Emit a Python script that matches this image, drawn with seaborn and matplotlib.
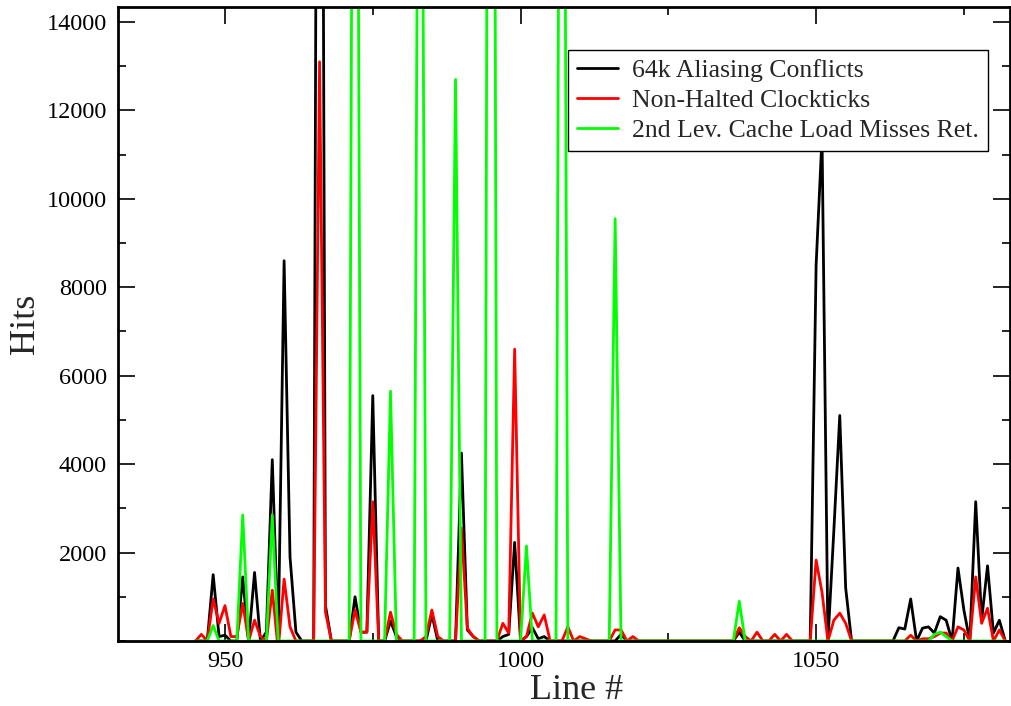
import numpy as np
import pandas as pd
import matplotlib
matplotlib.use("Agg")
import matplotlib.pyplot as plt
import seaborn as sns
from matplotlib.ticker import FixedLocator, MultipleLocator

# Hits per source line for three hardware events

first_line = 945
last_line = 1082

aliasing_hits = [
    0, 0, 0, 1500, 100, 130, 0, 0, 1450, 0,
    1550, 0, 200, 4100, 0, 8600, 1900, 200, 0, 0,
    0, 40000, 800, 0, 0, 0, 0, 1000, 200, 200,
    5550, 0, 0, 450, 100, 0, 0, 0, 0, 0,
    600, 0, 0, 0, 0, 4250, 250, 100, 0, 0,
    0, 0, 100, 150, 2230, 0, 100, 300, 50, 100,
    0, 0, 0, 0, 0, 0, 0, 0, 0, 0,
    0, 0, 150, 0, 0, 0, 0, 0, 0, 0,
    0, 0, 0, 0, 0, 0, 0, 0, 0, 0,
    0, 0, 200, 0, 0, 0, 0, 0, 0, 0,
    0, 0, 0, 0, 0, 8500, 11400, 0, 2500, 5100,
    1200, 0, 0, 0, 0, 0, 0, 0, 0, 300,
    270, 950, 0, 290, 320, 180, 550, 470, 0, 1650,
    700, 0, 3150, 470, 1700, 180, 470, 0,
]

clockticks_hits = [
    0, 150, 0, 950, 400, 800, 100, 100, 850, 0,
    470, 100, 0, 1150, -200, 1400, 320, 0, 0, 0,
    0, 13100, 650, 0, 0, 0, 0, 700, 200, 200,
    3150, 0, 0, 650, 150, 0, 0, 0, 0, 100,
    700, 100, 0, 0, 0, 2550, 290, 100, 0, 0,
    0, 0, 400, 180, 6600, 0, 100, 630, 320, 590,
    0, 0, 0, 320, 0, 100, 50, 0, 0, 0,
    0, 250, 250, 0, 100, 0, 0, 0, 0, 0,
    0, 0, 0, 0, 0, 0, 0, 0, 0, 0,
    0, 0, 300, 100, 0, 200, 0, 0, 150, 0,
    150, 0, 0, 0, 0, 1830, 1100, 0, 470, 630,
    400, 0, 0, 0, 0, 0, 0, 0, 0, 0,
    0, 130, 0, 50, 50, 100, 180, 180, 0, 320,
    250, 0, 1450, 400, 740, 0, 250, 0,
]

l2_miss_hits = [
    0, 0, 0, 350, 0, 0, 0, 0, 2850, 0,
    0, 0, 0, 2850, 0, 0, 0, 0, 0, 0,
    0, 0, 0, 0, 0, 0, 0, 35000, 0, 0,
    0, 0, 0, 5650, 0, 0, 0, 0, 30000, 0,
    0, 0, 0, 0, 12700, 0, 0, 0, 0, 0,
    50000, 0, 0, 0, 0, 0, 2150, 0, 0, 0,
    0, 0, 35000, 0, 0, 0, 0, 0, 0, 0,
    0, 9550, 0, 0, 0, 0, 0, 0, 0, 0,
    0, 0, 0, 0, 0, 0, 0, 0, 0, 0,
    0, 0, 900, 0, 0, 0, 0, 0, 0, 0,
    0, 0, 0, 0, 0, 0, 0, 0, 0, 0,
    0, 0, 0, 0, 0, 0, 0, 0, 0, 0,
    0, 0, 0, 0, 0, 150, 200, 100, 0, 0,
    0, 0, 0, 0, 0, 0, 0, 0,
]

series_names = [
    "64k Aliasing Conflicts",
    "Non-Halted Clockticks",
    "2nd Lev. Cache Load Misses Ret.",
]
series_colors = ["#000000", "#ff0000", "#00ff00"]

y_tick_values = [2000, 4000, 6000, 8000, 10000, 12000, 14000]
x_tick_values = [950, 1000, 1050]


def build_frame():
    """Long-form table: one row per (line, series)."""
    lines = list(range(first_line, last_line + 1))
    parts = []
    for name, hits in zip(series_names, [aliasing_hits, clockticks_hits, l2_miss_hits]):
        parts.append(pd.DataFrame({"line": lines, "hits": hits, "series": name}))
    return pd.concat(parts, ignore_index=True)


def main():
    df = build_frame()

    sns.set_style("ticks")
    plt.rcParams["font.family"] = ["Liberation Serif", "DejaVu Serif"]

    fig = plt.figure(figsize=(10.12, 7.06), dpi=100)
    ax = fig.add_axes([118 / 1012, 1 - 641 / 706, (1010 - 118) / 1012, (641 - 6.5) / 706])

    sns.lineplot(
        data=df, x="line", y="hits", hue="series",
        hue_order=series_names, palette=series_colors,
        estimator=None, linewidth=2.0, ax=ax, legend=True,
    )

    ax.set_xlim(931.9, 1082.8)
    ax.set_ylim(0, 14350)

    # ticks: inward, mirrored on all sides
    ax.xaxis.set_major_locator(FixedLocator(x_tick_values))
    ax.xaxis.set_minor_locator(MultipleLocator(25))
    ax.yaxis.set_major_locator(FixedLocator(y_tick_values))
    ax.yaxis.set_minor_locator(MultipleLocator(1000))
    ax.tick_params(which="both", direction="in", top=True, right=True,
                   width=1.2, colors="black", labelsize=17.5)
    ax.tick_params(which="major", length=12)
    ax.tick_params(which="minor", length=6)
    ax.tick_params(axis="x", pad=7)
    ax.tick_params(axis="y", pad=8)

    for side in ["left", "right", "top", "bottom"]:
        ax.spines[side].set_visible(True)
        ax.spines[side].set_linewidth(2.0)
        ax.spines[side].set_color("black")

    ax.set_xlabel("Line #", fontsize=26)
    ax.set_ylabel("Hits", fontsize=26)
    ax.xaxis.set_label_coords((577 - 118) / 892, -33 / 634.5, transform=ax.transAxes)
    ax.yaxis.set_label_coords(-76 / 892, 0.5, transform=ax.transAxes)
    ax.xaxis.label.set_va("top")
    ax.yaxis.label.set_va("bottom")

    handles, labels = ax.get_legend_handles_labels()
    leg = ax.legend(
        handles, labels, loc="upper left",
        bbox_to_anchor=(568 / 1012, 1 - 50 / 706), bbox_transform=fig.transFigure,
        fontsize=18.5, frameon=True, fancybox=False, framealpha=1,
        edgecolor="black", handlelength=1.6, handletextpad=0.55,
        labelspacing=0.28, borderpad=0.35, borderaxespad=0,
    )
    leg.get_frame().set_linewidth(1.0)

    fig.savefig("out.png", dpi=100)


if __name__ == "__main__":
    main()
